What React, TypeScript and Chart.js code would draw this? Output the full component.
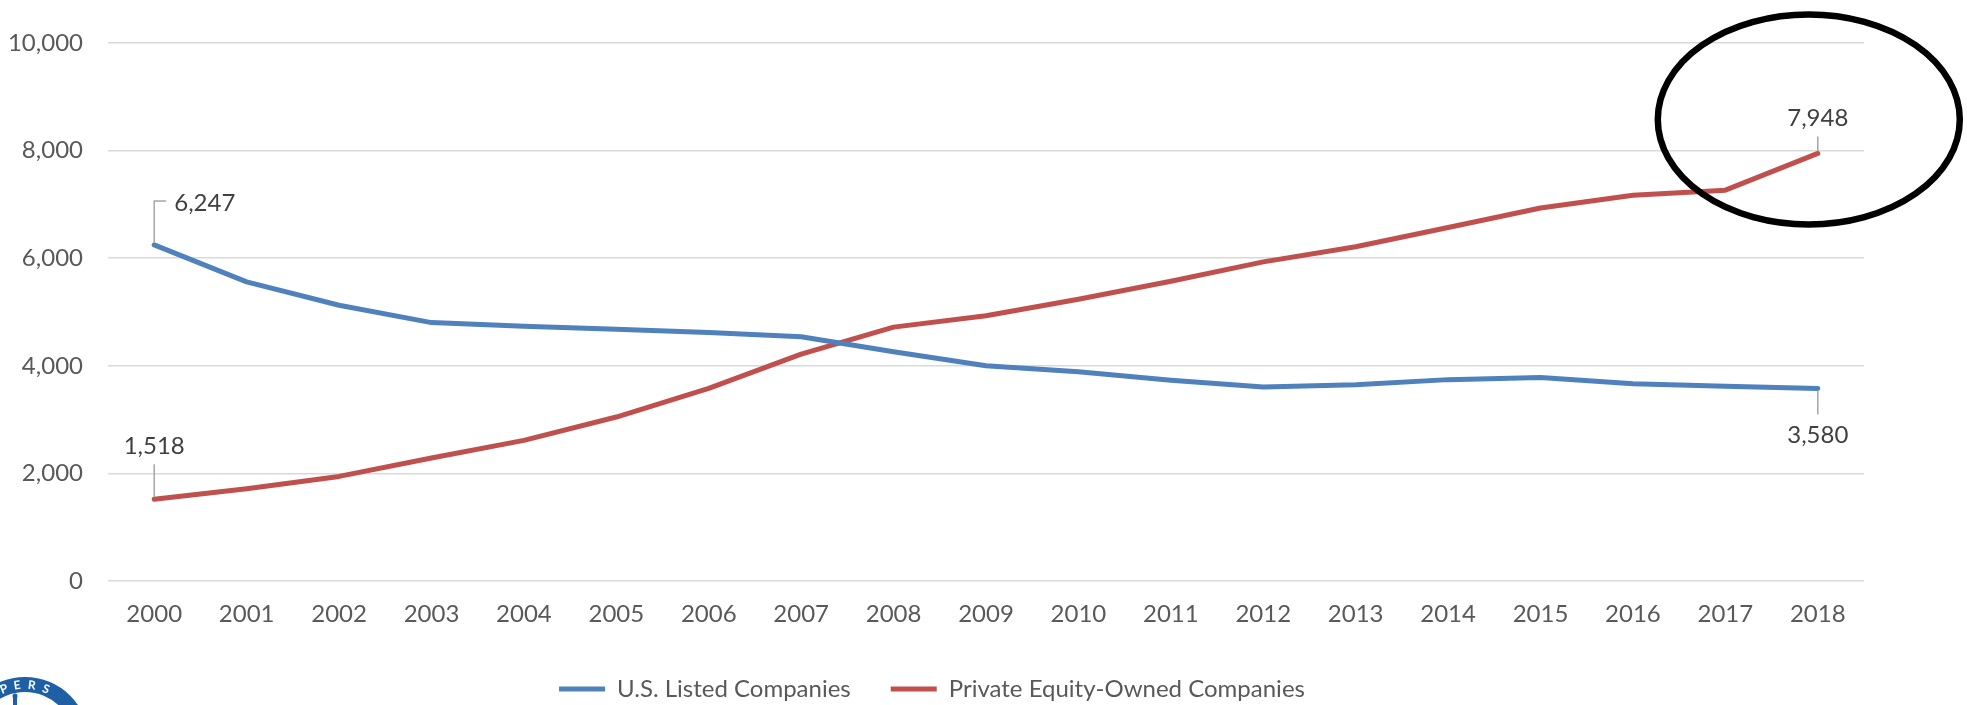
import React, { useEffect, useRef } from "react";
import { Chart, registerables } from "chart.js";

Chart.register(...registerables);

const years = ["2000", "2001", "2002", "2003", "2004", "2005", "2006", "2007", "2008", "2009", "2010", "2011", "2012", "2013", "2014", "2015", "2016", "2017", "2018"];
const usListed = [6247, 5560, 5126, 4803, 4735, 4679, 4620, 4540, 4260, 4000, 3888, 3733, 3606, 3650, 3743, 3781, 3668, 3618, 3580];
const peOwned = [1518, 1715, 1944, 2285, 2614, 3048, 3580, 4217, 4719, 4930, 5237, 5572, 5932, 6213, 6570, 6932, 7170, 7264, 7948];
const yTicks = [0, 2000, 4000, 6000, 8000, 10000];
const seriesNames = ["U.S. Listed Companies", "Private Equity-Owned Companies"];
const seriesColors = ["#4F81BD", "#C0504D"];

const FONT = "Lato, 'Open Sans', sans-serif";
const TICK_COLOR = "#595959";
const LABEL_COLOR = "#404040";

const fmt = (v: number) => v.toLocaleString("en-US");

// data labels with leader lines: [datasetIndex, pointIndex, placement]
const labelSpecs: Array<[number, number, string]> = [
  [0, 0, "elbow"],
  [1, 0, "above"],
  [1, 18, "above-near"],
  [0, 18, "below"],
];

const labelPlugin = {
  id: "leaderLabels",
  afterDatasetsDraw(chart: any) {
    const ctx = chart.ctx;
    ctx.save();
    ctx.font = `24px ${FONT}`;
    ctx.fillStyle = LABEL_COLOR;
    ctx.strokeStyle = "#a6a6a6";
    ctx.lineWidth = 1.5;
    for (const [di, pi, place] of labelSpecs) {
      const pt = chart.getDatasetMeta(di).data[pi];
      const value = chart.data.datasets[di].data[pi] as number;
      const x = pt.x;
      const y = pt.y;
      const text = fmt(value);
      ctx.beginPath();
      if (place === "elbow") {
        ctx.moveTo(x, y - 2);
        ctx.lineTo(x, y - 44);
        ctx.lineTo(x + 12, y - 44);
        ctx.stroke();
        ctx.textAlign = "left";
        ctx.textBaseline = "middle";
        ctx.fillText(text, x + 20, y - 42);
      } else if (place === "above") {
        ctx.moveTo(x, y - 2);
        ctx.lineTo(x, y - 35);
        ctx.stroke();
        ctx.textAlign = "center";
        ctx.textBaseline = "middle";
        ctx.fillText(text, x, y - 53);
      } else if (place === "above-near") {
        ctx.moveTo(x, y - 2);
        ctx.lineTo(x, y - 17);
        ctx.stroke();
        ctx.textAlign = "center";
        ctx.textBaseline = "middle";
        ctx.fillText(text, x, y - 35);
      } else {
        ctx.moveTo(x, y + 2);
        ctx.lineTo(x, y + 26);
        ctx.stroke();
        ctx.textAlign = "center";
        ctx.textBaseline = "middle";
        ctx.fillText(text, x, y + 47);
      }
    }
    ctx.restore();
  },
};

const decorPlugin = {
  id: "decor",
  afterDraw(chart: any) {
    const ctx = chart.ctx;
    const xs = chart.scales.x;
    const ys = chart.scales.y;
    // highlight ellipse around last point
    const cx = xs.getPixelForValue(years.length - 1) - 9;
    const cy = ys.getPixelForValue(8580);
    ctx.save();
    ctx.beginPath();
    ctx.ellipse(cx, cy, 151, 105, 0, 0, Math.PI * 2);
    ctx.lineWidth = 6.5;
    ctx.strokeStyle = "#000000";
    ctx.stroke();
    ctx.restore();

    // partial logo at bottom-left
    const lx = 25;
    const ly = 741;
    ctx.save();
    ctx.beginPath();
    ctx.arc(lx, ly, 64, 0, Math.PI * 2);
    ctx.fillStyle = "#1f5fa6";
    ctx.fill();
    ctx.beginPath();
    ctx.arc(lx, ly, 49, 0, Math.PI * 2);
    ctx.fillStyle = "#ffffff";
    ctx.fill();
    ctx.fillStyle = "#ffffff";
    ctx.font = `bold 12px ${FONT}`;
    ctx.textAlign = "center";
    ctx.textBaseline = "middle";
    const letters = ["P", "E", "R", "S"];
    const angles = [-22, -8, 7, 22];
    letters.forEach((ch, i) => {
      const a = (angles[i] * Math.PI) / 180;
      ctx.save();
      ctx.translate(lx + Math.sin(a) * 56, ly - Math.cos(a) * 56);
      ctx.rotate(a);
      ctx.fillText(ch, 0, 0);
      ctx.restore();
    });
    ctx.fillStyle = "#1f5fa6";
    ctx.fillRect(13, 697, 4, 8);
    ctx.beginPath();
    ctx.arc(15, 696, 2.5, 0, Math.PI * 2);
    ctx.fill();
    ctx.restore();
  },
};

export default function App() {
  const ref = useRef<HTMLCanvasElement>(null);
  useEffect(() => {
    document.body.style.margin = "0";
    const canvas = ref.current!;
    const chart = new Chart(canvas, {
      type: "line",
      data: {
        labels: years,
        datasets: [
          {
            label: seriesNames[0],
            data: usListed,
            borderColor: seriesColors[0],
            backgroundColor: seriesColors[0],
            borderWidth: 5,
            pointRadius: 0,
            tension: 0,
            borderCapStyle: "round",
            borderJoinStyle: "round",
          },
          {
            label: seriesNames[1],
            data: peOwned,
            borderColor: seriesColors[1],
            backgroundColor: seriesColors[1],
            borderWidth: 5,
            pointRadius: 0,
            tension: 0,
            borderCapStyle: "round",
            borderJoinStyle: "round",
          },
        ],
      },
      options: {
        responsive: false,
        animation: false,
        layout: { padding: { top: 43, right: 103, left: 0, bottom: -6 } },
        scales: {
          x: {
            offset: true,
            grid: { display: false, drawTicks: false },
            border: { display: false },
            ticks: {
              color: TICK_COLOR,
              font: { family: FONT, size: 24 },
              padding: 19,
              maxRotation: 0,
              autoSkip: false,
            },
            afterFit: (s: any) => {
              s.height = 56;
            },
          },
          y: {
            min: 0,
            max: 10000,
            afterBuildTicks: (s: any) => {
              s.ticks = yTicks.map((v) => ({ value: v }));
            },
            ticks: {
              color: TICK_COLOR,
              font: { family: FONT, size: 24 },
              padding: 25,
              callback: (v: any) => fmt(Number(v)),
            },
            grid: { color: "#d9d9d9", lineWidth: 1.5, drawTicks: false },
            border: { display: false },
            afterFit: (s: any) => {
              s.width = 108;
            },
          },
        },
        plugins: {
          legend: {
            position: "bottom",
            labels: {
              usePointStyle: true,
              pointStyle: "line",
              pointStyleWidth: 46,
              boxHeight: 23,
              padding: 40,
              color: TICK_COLOR,
              font: { family: FONT, size: 24 },
            },
          },
          tooltip: { enabled: false },
        },
      },
      plugins: [labelPlugin, decorPlugin],
    } as any);
    return () => chart.destroy();
  }, []);
  return (
    <div style={{ width: 1967, height: 705, position: "relative" }}>
      <canvas ref={ref} width={1967} height={705} />
    </div>
  );
}
